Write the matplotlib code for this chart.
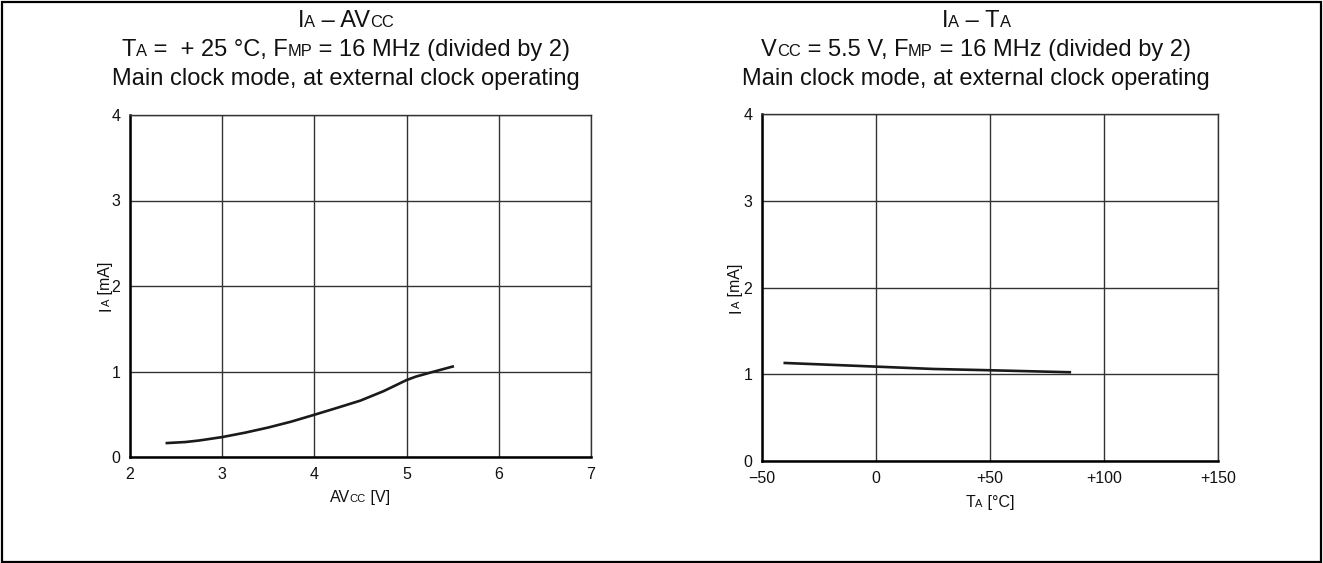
import matplotlib
matplotlib.use('Agg')
import matplotlib.pyplot as plt
from matplotlib.patches import Rectangle

plt.rcParams['font.family'] = ['Liberation Sans', 'DejaVu Sans']

# I_A vs AVcc (TA = +25 C)
avcc_v = [2.4, 2.6, 2.75, 3.0, 3.25, 3.5, 3.75, 4.0, 4.25, 4.5, 4.75, 5.0, 5.1, 5.25, 5.5]
avcc_ia = [0.163, 0.175, 0.193, 0.233, 0.285, 0.345, 0.414, 0.494, 0.576, 0.66, 0.77, 0.90, 0.94, 0.985, 1.058]

# I_A vs TA (Vcc = 5.5 V)
temp_c = [-40, 0, 25, 50, 85]
temp_ia = [1.13, 1.088, 1.061, 1.046, 1.023]

avcc_ticks = [2, 3, 4, 5, 6, 7]
temp_ticks = [-50, 0, 50, 100, 150]
temp_labels = ['\u221250', '0', '+50', '+100', '+150']
ia_ticks = [0, 1, 2, 3, 4]

W, H = 1323, 563
TITLE = 17
TICK = 11.5


def width_px(fig, r, s, size):
    a = fig.text(0, 0, 'x' + s + 'x', fontsize=size)
    b = fig.text(0, 0, 'xx', fontsize=size)
    w = a.get_window_extent(r).width - b.get_window_extent(r).width
    a.remove()
    b.remove()
    return w


def mixed_text(fig, x, y, parts, size, rotation=0):
    # x, y in image pixels (y down), centred, y = baseline
    r = fig.canvas.get_renderer()
    sizes = [size * 0.7 if small else size for s, small in parts]
    widths = [width_px(fig, r, s, sz) for (s, small), sz in zip(parts, sizes)]
    pos = -sum(widths) / 2
    for (s, small), sz, w in zip(parts, sizes, widths):
        if rotation == 0:
            px, py = x + pos, y
        else:
            px, py = x, y - pos
        fig.text(px / W, 1 - py / H, s, fontsize=sz, ha='left', va='baseline',
                 rotation=rotation, rotation_mode='anchor', color='#111111')
        pos += w


def make_axes(fig, x0, x1, top, bottom):
    ax = fig.add_axes([x0 / W, 1 - bottom / H, (x1 - x0) / W, (bottom - top) / H])
    ax.grid(True, color='#333333', linewidth=1.0)
    ax.set_axisbelow(True)
    for side in ['left', 'bottom']:
        ax.spines[side].set_linewidth(1.8)
    for side in ['top', 'right']:
        ax.spines[side].set_linewidth(1.0)
        ax.spines[side].set_color('#333333')
    ax.tick_params(length=0, labelsize=TICK, pad=7, colors='#111111')
    return ax


fig = plt.figure(figsize=(W / 100, H / 100), dpi=100)
fig.patches.append(Rectangle((2 / W, 1.5 / H), 1319 / W, 559.5 / H, transform=fig.transFigure,
                             fill=False, edgecolor='black', linewidth=1.6))

ax1 = make_axes(fig, 130, 591, 115, 457)
ax1.plot(avcc_v, avcc_ia, color='#1a1a1a', linewidth=1.9)
ax1.set_xlim(2, 7)
ax1.set_ylim(0, 4)
ax1.set_xticks(avcc_ticks)
ax1.set_yticks(ia_ticks)

ax2 = make_axes(fig, 762, 1218, 114, 461)
ax2.plot(temp_c, temp_ia, color='#1a1a1a', linewidth=1.9)
ax2.set_xlim(-50, 150)
ax2.set_ylim(0, 4)
ax2.set_xticks(temp_ticks)
ax2.set_xticklabels(temp_labels)
ax2.set_yticks(ia_ticks)

# titles
mixed_text(fig, 346, 27, [('I', 0), ('A', 1), (' \u2013 AV', 0), ('CC', 1)], TITLE)
mixed_text(fig, 346, 56, [('T', 0), ('A', 1), (' =  + 25 \u00b0C, F', 0), ('MP', 1),
                          (' = 16 MHz (divided by 2)', 0)], TITLE)
mixed_text(fig, 346, 85, [('Main clock mode, at external clock operating', 0)], TITLE)

mixed_text(fig, 976, 27, [('I', 0), ('A', 1), (' \u2013 T', 0), ('A', 1)], TITLE)
mixed_text(fig, 976, 56, [('V', 0), ('CC', 1), (' = 5.5 V, F', 0), ('MP', 1),
                          (' = 16 MHz (divided by 2)', 0)], TITLE)
mixed_text(fig, 976, 85, [('Main clock mode, at external clock operating', 0)], TITLE)

# axis labels
mixed_text(fig, 360, 502, [('AV', 0), ('CC', 1), (' [V]', 0)], TICK)
mixed_text(fig, 990, 507, [('T', 0), ('A', 1), (' [\u00b0C]', 0)], TICK)
mixed_text(fig, 110, 286, [('I', 0), ('A', 1), (' [mA]', 0)], TICK, rotation=90)
mixed_text(fig, 740, 288, [('I', 0), ('A', 1), (' [mA]', 0)], TICK, rotation=90)

fig.savefig('out.png', dpi=100)
